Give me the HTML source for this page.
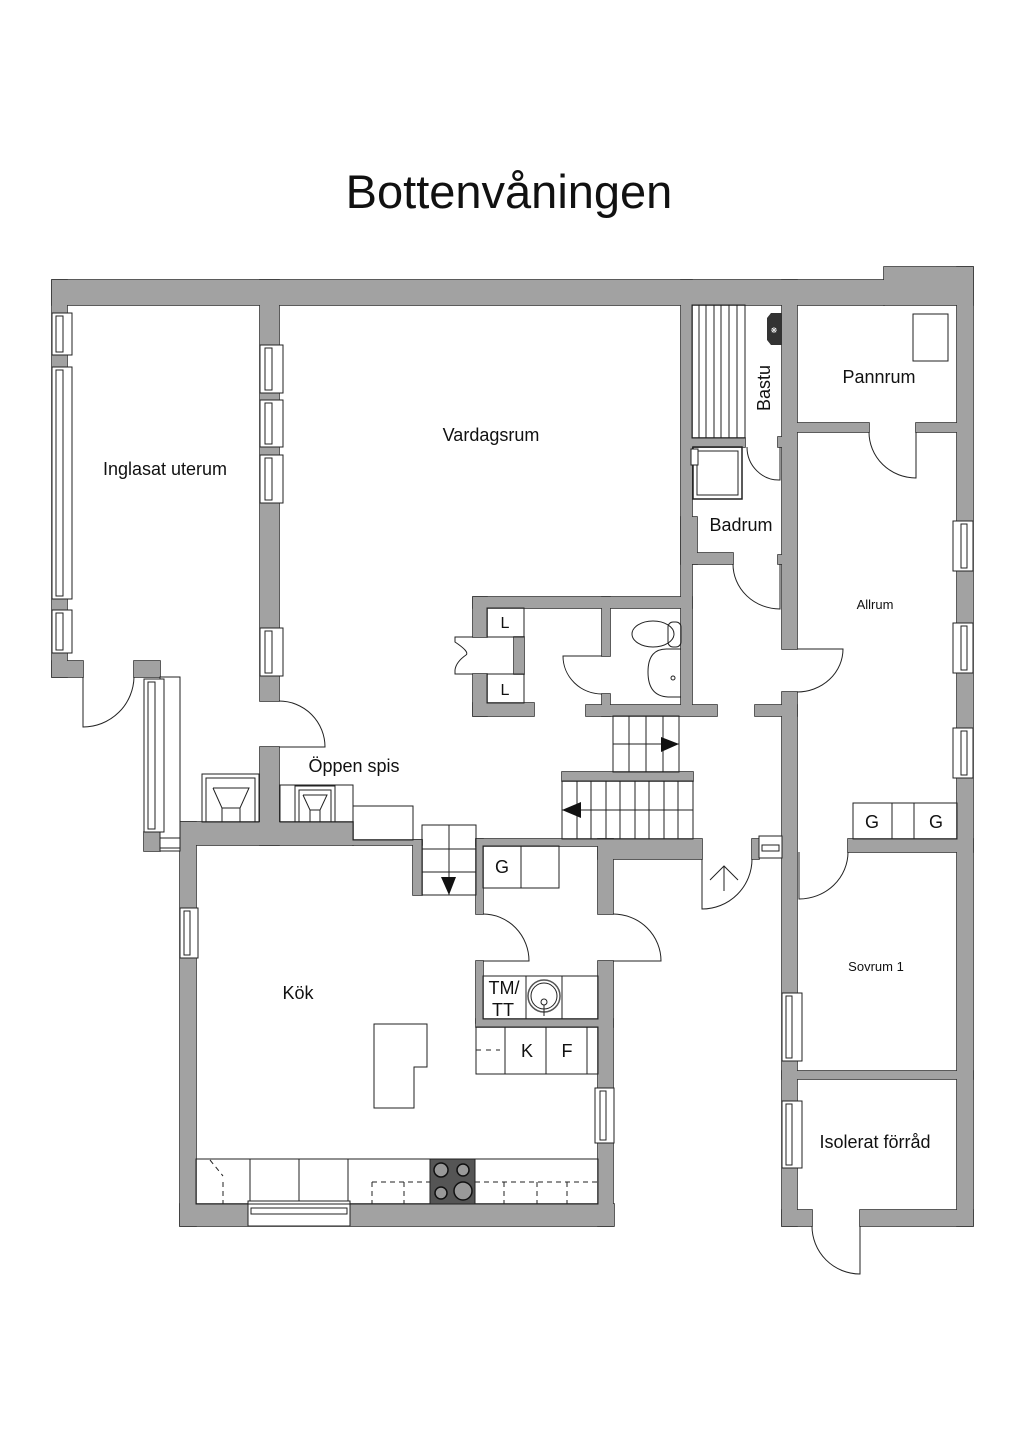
<!DOCTYPE html>
<html><head><meta charset="utf-8"><style>
html,body{margin:0;padding:0;background:#fff;}
svg{display:block;}
text{font-family:"Liberation Sans",sans-serif;fill:#111;}
</style></head><body>
<svg width="1024" height="1448" viewBox="0 0 1024 1448" xmlns="http://www.w3.org/2000/svg">
<defs>
<g id="walls">
<rect x="52" y="280" width="832" height="25"/>
<rect x="884" y="267" width="89" height="38"/>
<rect x="957" y="267" width="16" height="959"/>
<rect x="52" y="280" width="15" height="397"/>
<rect x="52" y="661" width="31" height="16"/>
<rect x="134" y="661" width="26" height="16"/>
<rect x="144" y="832" width="16" height="19"/>
<rect x="260" y="280" width="19" height="421"/>
<rect x="260" y="747" width="19" height="98"/>
<rect x="180" y="822" width="173" height="23"/>
<rect x="353" y="840" width="69" height="5"/>
<rect x="413" y="840" width="9" height="55"/>
<rect x="180" y="822" width="16" height="404"/>
<rect x="180" y="1204" width="434" height="22"/>
<rect x="598" y="839" width="15" height="75"/>
<rect x="598" y="961" width="15" height="265"/>
<rect x="476" y="839" width="137" height="7"/>
<rect x="598" y="839" width="104" height="20"/>
<rect x="476" y="839" width="7" height="75"/>
<rect x="476" y="961" width="7" height="62"/>
<rect x="476" y="1019" width="137" height="8"/>
<rect x="752" y="839" width="7" height="20"/>
<rect x="782" y="280" width="15" height="369"/>
<rect x="782" y="692" width="15" height="534"/>
<rect x="681" y="280" width="11" height="427"/>
<rect x="681" y="517" width="16" height="47"/>
<rect x="692" y="438" width="53" height="9"/>
<rect x="778" y="437" width="4" height="10"/>
<rect x="692" y="553" width="41" height="11"/>
<rect x="778" y="555" width="4" height="9"/>
<rect x="797" y="423" width="72" height="9"/>
<rect x="916" y="423" width="41" height="9"/>
<rect x="473" y="597" width="219" height="11"/>
<rect x="473" y="597" width="14" height="40"/>
<rect x="473" y="674" width="14" height="42"/>
<rect x="473" y="703" width="61" height="13"/>
<rect x="514" y="637" width="10" height="37"/>
<rect x="602" y="597" width="8" height="59"/>
<rect x="602" y="694" width="8" height="22"/>
<rect x="586" y="705" width="131" height="11"/>
<rect x="755" y="705" width="42" height="11"/>
<rect x="562" y="772" width="131" height="9"/>
<rect x="848" y="839" width="125" height="13"/>
<rect x="782" y="1071" width="191" height="8"/>
<rect x="782" y="1210" width="30" height="16"/>
<rect x="860" y="1210" width="113" height="16"/>
</g>
</defs>
<text x="509" y="208" font-size="47" text-anchor="middle">Bottenvåningen</text>

<use href="#walls" fill="#a2a2a2" stroke="#333" stroke-width="1.6"/>
<use href="#walls" fill="#a2a2a2" stroke="none"/>

<g fill="#fff" stroke="#222" stroke-width="1">
<rect x="52" y="313" width="20" height="42"/><rect x="56" y="316" width="7" height="36"/>
<rect x="52" y="367" width="20" height="232"/><rect x="56" y="370" width="7" height="226"/>
<rect x="52" y="610" width="20" height="43"/><rect x="56" y="613" width="7" height="37"/>
<rect x="260" y="345" width="23" height="48"/><rect x="265" y="348" width="7" height="42"/>
<rect x="260" y="400" width="23" height="47"/><rect x="265" y="403" width="7" height="41"/>
<rect x="260" y="455" width="23" height="48"/><rect x="265" y="458" width="7" height="42"/>
<rect x="260" y="628" width="23" height="48"/><rect x="265" y="631" width="7" height="42"/>
<rect x="160" y="677" width="20" height="174"/>
<rect x="144" y="679" width="20" height="153"/><rect x="148" y="682" width="7" height="147"/>
<rect x="160" y="838" width="20" height="10"/>
<rect x="180" y="908" width="18" height="50"/><rect x="184" y="911" width="6" height="44"/>
<rect x="595" y="1088" width="19" height="55"/><rect x="600" y="1091" width="6" height="49"/>
<rect x="953" y="521" width="20" height="50"/><rect x="961" y="524" width="6" height="44"/>
<rect x="953" y="623" width="20" height="50"/><rect x="961" y="626" width="6" height="44"/>
<rect x="953" y="728" width="20" height="50"/><rect x="961" y="731" width="6" height="44"/>
<rect x="782" y="993" width="20" height="68"/><rect x="786" y="996" width="6" height="62"/>
<rect x="782" y="1101" width="20" height="67"/><rect x="786" y="1104" width="6" height="61"/>
<rect x="759" y="836" width="23" height="22"/><rect x="762" y="845" width="17" height="6"/>
<rect x="248" y="1201" width="102" height="25"/><rect x="251" y="1208" width="96" height="6"/>
</g>

<g fill="none" stroke="#222" stroke-width="1">
<path d="M83 677 V727 A51 51 0 0 0 134 677"/>
<path d="M279 701 A46 46 0 0 1 325 747 H279"/>
<path d="M747 447 A32 33 0 0 0 780 480 V447"/>
<path d="M733 564 A47 45 0 0 0 780 609 V564"/>
<path d="M869 432 A47 46 0 0 0 916 478 V432"/>
<path d="M797 649 H843 A46 43 0 0 1 797 692"/>
<path d="M602 656 H563 A39 38 0 0 0 602 694"/>
<path d="M702 859 V909 A50 50 0 0 0 752 859"/>
<path d="M483 914 A46 47 0 0 1 529 961 H483"/>
<path d="M613 914 A48 47 0 0 1 661 961 H613"/>
<path d="M799 852 V899 A49 47 0 0 0 848 852"/>
<path d="M812 1226 A48 48 0 0 0 860 1274 V1226"/>
<path d="M473 637 H455 V642 Q470 652 466 655 Q456 662 455 670 V674 H473"/>
<path d="M724 891 V866 M710 880 L724 866 L738 880"/>
<rect x="692" y="305" width="53" height="133"/>
<path d="M699 305V438M706 305V438M714 305V438M721 305V438M729 305V438M737 305V438"/>
<rect x="693" y="447" width="49" height="52" stroke-width="1.5"/>
<rect x="697" y="451" width="41" height="44"/>
<rect x="913" y="314" width="35" height="47"/>
<rect x="487" y="608" width="37" height="29"/>
<rect x="487" y="674" width="37" height="29"/>
<ellipse cx="653" cy="634" rx="21" ry="13"/>
<rect x="668" y="622" width="13" height="25" rx="5"/>
<path d="M681 649 H668 Q648 648 648 672 Q648 696 668 697 H681"/>
<circle cx="673" cy="678" r="2"/>
<rect x="613" y="716" width="66" height="56"/>
<path d="M629 716V772M646 716V772M663 716V772M613 744H679"/>
<rect x="562" y="781" width="131" height="58"/>
<path d="M577 781V839M591 781V839M606 781V839M620 781V839M635 781V839M649 781V839M664 781V839M678 781V839M562 810H693"/>
<rect x="422" y="825" width="54" height="70"/>
<path d="M449 825V895M422 849H476M422 872H476"/>
<rect x="202" y="774" width="57" height="48"/>
<rect x="206" y="778" width="49" height="44"/>
<path d="M213 788 H249 L240 808 V822 M222 822 V808 L213 788 M222 808 H240"/>
<rect x="280" y="785" width="73" height="37"/>
<rect x="295" y="786" width="40" height="36"/>
<rect x="299" y="790" width="32" height="32"/>
<path d="M303 795 H327 L320 810 V822 M310 822 V810 L303 795 M310 810 H320"/>
<rect x="353" y="806" width="60" height="34"/>
<rect x="483" y="846" width="76" height="42"/>
<path d="M521 846V888"/>
<rect x="853" y="803" width="104" height="36"/>
<path d="M892 803V839M914 803V839"/>
<rect x="483" y="976" width="115" height="43"/>
<path d="M526 976V1019M562 976V1019"/>
<circle cx="544" cy="996" r="16" stroke-width="1.5" stroke="#555"/>
<circle cx="544" cy="996" r="13"/>
<circle cx="544" cy="1002" r="3"/>
<path d="M544 1005V1016"/>
<rect x="476" y="1027" width="122" height="47"/>
<path d="M505 1027V1074M546 1027V1074M587 1027V1074"/>
<path d="M476 1050H500" stroke-dasharray="5 5"/>
<path d="M374 1024 H427 V1067 H414 V1108 H374 Z"/>
<rect x="196" y="1159" width="402" height="45"/>
<path d="M250 1159V1201M299 1159V1201M348 1159V1201"/>
<path d="M372 1182H430M475 1182H598M372 1182V1204M404 1182V1204M504 1182V1204M537 1182V1204M567 1182V1204M223 1182V1204M210 1160L223 1176" stroke-dasharray="5 4"/>
</g>

<g fill="#111">
<polygon points="661,737 679,744 661,752"/>
<polygon points="562,810 581,802 581,818"/>
<polygon points="441,877 456,877 449,895"/>
</g>
<path d="M767 318 L771 313 H782 V345 H771 L767 340 Z" fill="#333"/>
<text x="774" y="333" font-size="8" text-anchor="middle" style="fill:#fff">❋</text>
<rect x="430" y="1159" width="45" height="45" fill="#555" stroke="#222"/>
<g fill="#999" stroke="#111" stroke-width="1.5">
<circle cx="441" cy="1170" r="7"/><circle cx="463" cy="1170" r="6"/>
<circle cx="441" cy="1193" r="6"/><circle cx="463" cy="1191" r="9"/>
</g>
<rect x="691" y="449" width="7" height="16" fill="#fff" stroke="#222"/>

<g font-size="18">
<text x="165" y="475" text-anchor="middle">Inglasat uterum</text>
<text x="491" y="441" text-anchor="middle">Vardagsrum</text>
<text x="354" y="772" text-anchor="middle">Öppen spis</text>
<text x="879" y="383" text-anchor="middle">Pannrum</text>
<text x="741" y="531" text-anchor="middle">Badrum</text>
<text x="298" y="999" text-anchor="middle">Kök</text>
<text x="875" y="1148" text-anchor="middle">Isolerat förråd</text>
<text transform="translate(770,388) rotate(-90)" text-anchor="middle">Bastu</text>
<text x="502" y="873" text-anchor="middle">G</text>
<text x="872" y="828" text-anchor="middle">G</text>
<text x="936" y="828" text-anchor="middle">G</text>
<text x="527" y="1057" text-anchor="middle">K</text>
<text x="567" y="1057" text-anchor="middle">F</text>
<text x="504" y="994" text-anchor="middle">TM/</text>
<text x="503" y="1016" text-anchor="middle">TT</text>
</g>
<g font-size="16">
<text x="505" y="628" text-anchor="middle">L</text>
<text x="505" y="695" text-anchor="middle">L</text>
</g>
<g font-size="13">
<text x="875" y="609" text-anchor="middle">Allrum</text>
<text x="876" y="971" text-anchor="middle">Sovrum 1</text>
</g>
</svg>
</body></html>
